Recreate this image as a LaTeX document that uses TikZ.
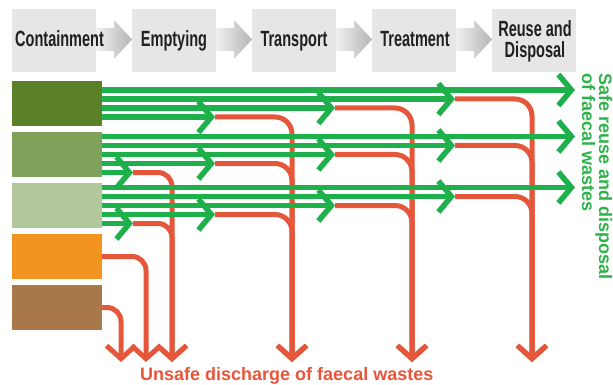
\documentclass[tikz,border=0pt]{standalone}
\usepackage{fontspec}
\setmainfont{Liberation Sans}
\newfontfamily\condfont[FakeStretch=0.66]{Liberation Sans}
\usetikzlibrary{arrows.meta}
\definecolor{hdr}{HTML}{E6E6E6}
\definecolor{cA}{HTML}{5B8128}
\definecolor{cB}{HTML}{7FA15A}
\definecolor{cC}{HTML}{B2C79B}
\definecolor{cD}{HTML}{F39420}
\definecolor{cE}{HTML}{A8784A}
\definecolor{gline}{HTML}{1DB04B}
\definecolor{rline}{HTML}{E5573B}
\definecolor{gtext}{HTML}{2DB34A}
\definecolor{rtext}{HTML}{E8553A}
\definecolor{htext}{HTML}{231F20}
\tikzset{
  hbox/.style={draw=none, fill=hdr, minimum width=84pt, minimum height=63pt, inner sep=0pt},
  htxt/.style={font=\condfont\bfseries\fontsize{22}{22}\selectfont, text=htext, inner sep=0pt},
  cbox/.style={draw=none, minimum width=90pt, minimum height=45pt, inner sep=0pt},
  gflow/.style={draw=gline, line width=5.5pt, -{Straight Barb[length=13pt,width=31pt]}},
  rflow/.style={draw=rline, line width=5pt, rounded corners=17pt, -{Straight Barb[length=13pt,width=29pt]}},
  rflowshort/.style={draw=rline, line width=5pt, rounded corners=14pt, -{Straight Barb[length=13pt,width=29pt]}},
  harrow/.style={left color=gray!12, right color=gray!58, draw=none},
  sidetxt/.style={font=\bfseries\fontsize{18}{18}\selectfont, text=gtext, inner sep=0pt, rotate=-90, anchor=base west},
}
\begin{document}
\begin{tikzpicture}[x=1pt,y=-1pt]
\useasboundingbox (0,0) rectangle (613,385);
% header boxes
\node[hbox] (h1) at (54,40.5) {};
\node[hbox] (h2) at (174,40.5) {};
\node[hbox] (h3) at (294,40.5) {};
\node[hbox] (h4) at (414,40.5) {};
\node[hbox] (h5) at (534,40.5) {};
% header arrows
\foreach \xa in {96,216,336,456}{
  \shade[harrow] (\xa,28) -- (\xa+18,28) -- (\xa+18,20) -- (\xa+36,39.5) -- (\xa+18,59) -- (\xa+18,51) -- (\xa,51) -- cycle;
}
\node[htxt, anchor=base west] (t1) at (15,47) {Containment};
\node[htxt, anchor=base] (t2) at (174,47) {Emptying};
\node[htxt, anchor=base] (t3) at (294,47) {Transport};
\node[htxt, anchor=base] (t4) at (415,47) {Treatment};
\node[htxt, anchor=base] (t5a) at (535,36.5) {Reuse and};
\node[htxt, anchor=base] (t5b) at (535,58) {Disposal};
% left boxes
\node[cbox, fill=cA] (b1) at (57,103.5) {};
\node[cbox, fill=cB] (b2) at (57,154.5) {};
\node[cbox, fill=cC] (b3) at (57,205.5) {};
\node[cbox, fill=cD] (b4) at (57,256.5) {};
\node[cbox, fill=cE] (b5) at (57,307.5) {};
% drop points
\coordinate (dE) at (121,362);
\coordinate (dD) at (146,362);
\coordinate (d1) at (172,362);
\coordinate (d2) at (292,362);
\coordinate (d3) at (412,362);
\coordinate (d4) at (532,362);
% red flows
\draw[rflowshort] (b5.east) -| (dE);
\draw[rflowshort] (b4.east) -| (dD);
\foreach \y in {172.5,223.5}{\draw[rflowshort] (133,\y) -| (d1);}
\foreach \y in {117,163.5,214.5}{\draw[rflow] (215,\y) -| (d2);}
\foreach \y in {108,154.5,205.5}{\draw[rflow] (335,\y) -| (d3);}
\foreach \y in {99,145.5,196.5}{\draw[rflow] (455,\y) -| (d4);}
% green flows
\foreach \yc in {103.5}{
  \draw[gflow] (102,\yc-13.5) -- (575,\yc-13.5);
  \draw[gflow] (102,\yc-4.5) -- (455,\yc-4.5);
  \draw[gflow] (102,\yc+4.5) -- (335,\yc+4.5);
  \draw[gflow] (102,\yc+13.5) -- (215,\yc+13.5);
}
\foreach \yc in {154.5,205.5}{
  \draw[gflow] (102,\yc-18) -- (575,\yc-18);
  \draw[gflow] (102,\yc-9) -- (455,\yc-9);
  \draw[gflow] (102,\yc) -- (335,\yc);
  \draw[gflow] (102,\yc+9) -- (215,\yc+9);
  \draw[gflow] (102,\yc+18) -- (133,\yc+18);
}
% labels
\node[sidetxt] (s1) at (599,73) {Safe reuse and disposal};
\node[sidetxt] (s2) at (582,73) {of faecal wastes};
\node[font=\bfseries\fontsize{18}{18}\selectfont, text=rtext, inner sep=0pt, anchor=base west] (u) at (140,380.5) {Unsafe discharge of faecal wastes};
\end{tikzpicture}
\end{document}
